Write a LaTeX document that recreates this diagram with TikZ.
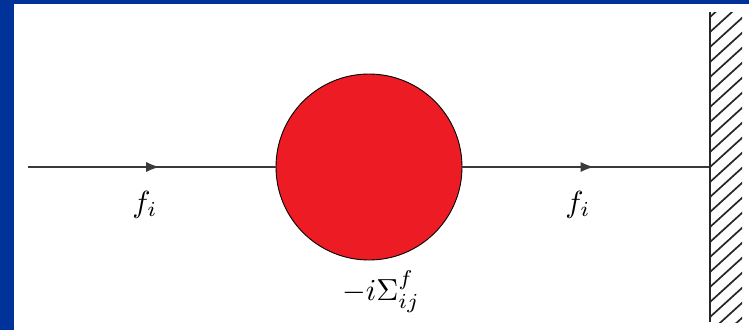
\documentclass[tikz,border=0pt]{standalone}
\usetikzlibrary{arrows.meta,decorations.markings}
\definecolor{bord}{HTML}{003399}
\definecolor{blob}{HTML}{ED1C24}
\definecolor{linegray}{HTML}{3A3A3A}
\tikzset{
  prop/.style={draw=linegray,line width=1.1pt,
    postaction={decorate},
    decoration={markings,mark=at position #1 with {\arrow{Latex[length=13pt,width=10pt]}}}},
  lbl/.style={scale=3.05,transform shape,anchor=base,inner sep=0pt},
  hatch/.style={line width=1.7pt,draw=black!85}
}
\begin{document}
\begin{tikzpicture}[x=1pt,y=-1pt]
\useasboundingbox (0,0) rectangle (749,330);
\fill[bord] (0,0) rectangle (749,330);
\fill[white] (14,4) rectangle (749,330);
\node[circle,draw=black,line width=0.9pt,fill=blob,minimum size=186pt,inner sep=0pt] (c) at (369,167) {};
\coordinate (start) at (28,167);
\coordinate (wall) at (710,167);
\coordinate (wtop) at (710,12);
\coordinate (wbot) at (710,322);
\draw[prop=0.53] (start) -- (c.west);
\draw[prop=0.53] (c.east) -- (wall);
\draw[line width=1.5pt,black!85] (wtop) -- (wbot);
\begin{scope}
\clip (710,12) rectangle (742,322);
\foreach \k in {-11,...,12} {
  \draw[hatch] (710,{167+15*\k}) -- ++(33,-30);
}
\end{scope}
\node[lbl] (f1) at (145,212) {$f_i$};
\node[lbl] (f2) at (578,212) {$f_i$};
\node[lbl] (sig) at (381,300) {$-i\Sigma^{f}_{ij}$};
\end{tikzpicture}
\end{document}
